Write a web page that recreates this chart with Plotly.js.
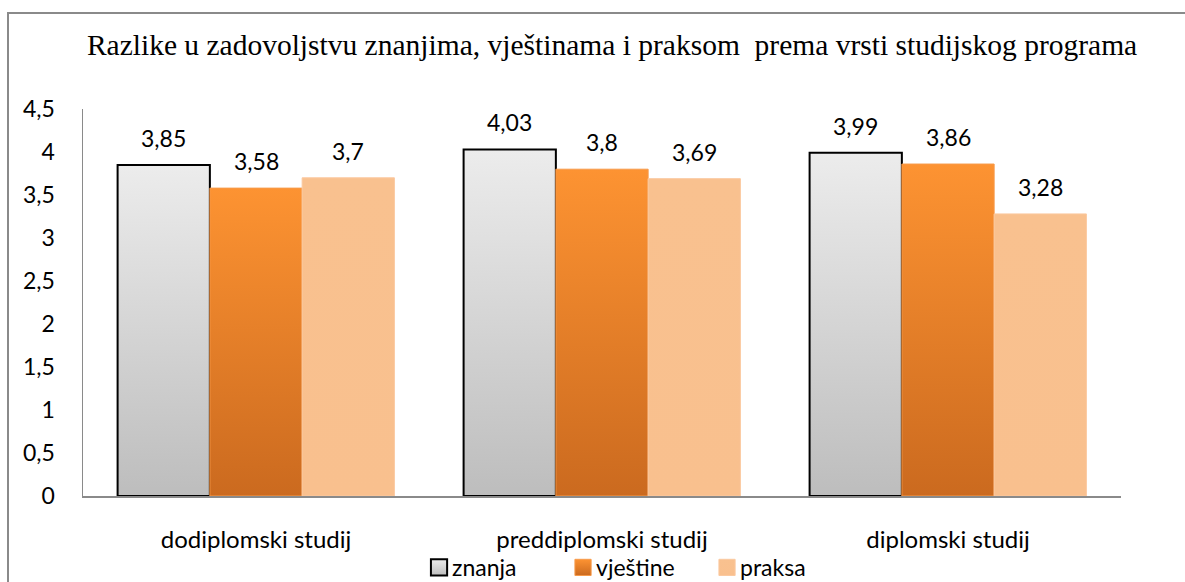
<!DOCTYPE html>
<html>
<head>
<meta charset="utf-8">
<script src="https://cdn.plot.ly/plotly-3.0.1.min.js"></script>
<style>html,body{margin:0;padding:0;background:#fff;}#chart{width:1185px;height:582px;}</style>
</head>
<body>
<div id="chart"></div>
<script>
const categories = ["dodiplomski studij", "preddiplomski studij", "diplomski studij"];
const seriesNames = ["znanja", "vještine", "praksa"];
const znanja = [3.85, 4.03, 3.99];
const vjestine = [3.58, 3.8, 3.86];
const praksa = [3.7, 3.69, 3.28];
const yTicks = [0, 0.5, 1, 1.5, 2, 2.5, 3, 3.5, 4, 4.5];
const titleText = "Razlike u zadovoljstvu znanjima, vještinama i praksom\u00a0 prema vrsti studijskog programa";

const series = [znanja, vjestine, praksa];
const fills = ["#d6d6d6", "#e8822a", "#f9c08f"];
const lines = [{color: "#000000", width: 2}, {color: "#f79a4a", width: 1}, {color: "#fbc9a0", width: 1}];
const fontFam = "Lato, Carlito, Calibri, sans-serif";
const labelFont = {family: fontFam, size: 23, color: "#000"};
const catFont = {family: fontFam, size: 24, color: "#000"};

const fmt = v => String(v).replace(".", ",");

const traces = series.map((vals, i) => ({
  type: "bar",
  name: seriesNames[i],
  x: categories.map((c, k) => k),
  y: vals,
  marker: {color: fills[i], line: lines[i]},
  hoverinfo: "skip"
}));

const barW = 0.8 / 3;
const annotations = [];
series.forEach((vals, i) => {
  vals.forEach((v, k) => {
    annotations.push({
      x: k + (i - 1) * barW, y: v, xref: "x", yref: "y",
      text: fmt(v), showarrow: false, yanchor: "bottom", yshift: 11,
      font: labelFont
    });
  });
});

const layout = {
  width: 1185, height: 582,
  margin: {l: 83, r: 64, t: 109, b: 86, autoexpand: false},
  paper_bgcolor: "#fff", plot_bgcolor: "#fff",
  separators: ", ",
  barmode: "group", bargap: 0.2, bargroupgap: 0,
  showlegend: true,
  title: {text: titleText, font: {family: "Liberation Serif, Times New Roman, serif", size: 29.5, color: "#000"},
          xref: "container", yref: "container",
          x: 0.5165, xanchor: "center", y: 0.924, yanchor: "middle"},
  xaxis: {
    tickmode: "array", tickvals: categories.map((c, k) => k), ticktext: categories,
    range: [-0.5, 2.5], showline: true, linecolor: "#8a8a8a", linewidth: 2,
    ticks: "", showgrid: false, zeroline: false, automargin: false,
    tickfont: catFont, ticklabelstandoff: 21
  },
  yaxis: {
    range: [0, 4.5], tickmode: "array", tickvals: yTicks, ticktext: yTicks.map(fmt),
    showline: true, linecolor: "#8a8a8a", linewidth: 1.5,
    ticks: "", showgrid: false, zeroline: false, automargin: false,
    tickfont: labelFont, ticklabelstandoff: 22
  },
  legend: {orientation: "h", xref: "container", yref: "container",
           x: 0.3477, xanchor: "left", y: 0.025, yanchor: "middle",
           font: labelFont, bgcolor: "rgba(0,0,0,0)", entrywidth: 99, entrywidthmode: "pixels",
           itemwidth: 30, tracegroupgap: 0},
  annotations: annotations,
  shapes: [{type: "rect", xref: "paper", yref: "paper",
            x0: (8 - 83) / 1038, x1: (1200 - 83) / 1038,
            y0: (496 - 600) / 387, y1: (496 - 13) / 387,
            line: {color: "#8a8a8a", width: 2}, fillcolor: "rgba(0,0,0,0)", layer: "below"}]
};

Plotly.newPlot("chart", traces, layout, {staticPlot: true, displayModeBar: false}).then(gd => {
  const svg = gd.querySelector("svg.main-svg");
  const defs = svg.querySelector("defs");
  const ns = "http://www.w3.org/2000/svg";
  const grads = [
    ["g-zn", "#ececec", "#bdbdbd"],
    ["g-vj", "#fd9332", "#cb6a1f"],
    ["g-pr", "#f9c18f", "#f9c08e"]
  ];
  grads.forEach(([id, c1, c2]) => {
    const lg = document.createElementNS(ns, "linearGradient");
    lg.setAttribute("id", id);
    lg.setAttribute("x1", "0"); lg.setAttribute("y1", "0");
    lg.setAttribute("x2", "0"); lg.setAttribute("y2", "1");
    [[0, c1], [1, c2]].forEach(([o, c]) => {
      const s = document.createElementNS(ns, "stop");
      s.setAttribute("offset", o); s.setAttribute("stop-color", c);
      lg.appendChild(s);
    });
    defs.appendChild(lg);
  });
  gd.querySelectorAll(".barlayer .trace").forEach((t, i) => {
    t.querySelectorAll(".point path").forEach(p => { p.style.fill = "url(#" + grads[i][0] + ")"; });
  });
  gd.querySelectorAll(".legend .traces").forEach((t, i) => {
    t.querySelectorAll(".legendpoints path").forEach(p => {
      p.style.fill = "url(#" + grads[i][0] + ")";
      p.setAttribute("transform", "translate(27,0) scale(1.35)");
      p.setAttribute("vector-effect", "non-scaling-stroke");
    });
  });
});
</script>
</body>
</html>
